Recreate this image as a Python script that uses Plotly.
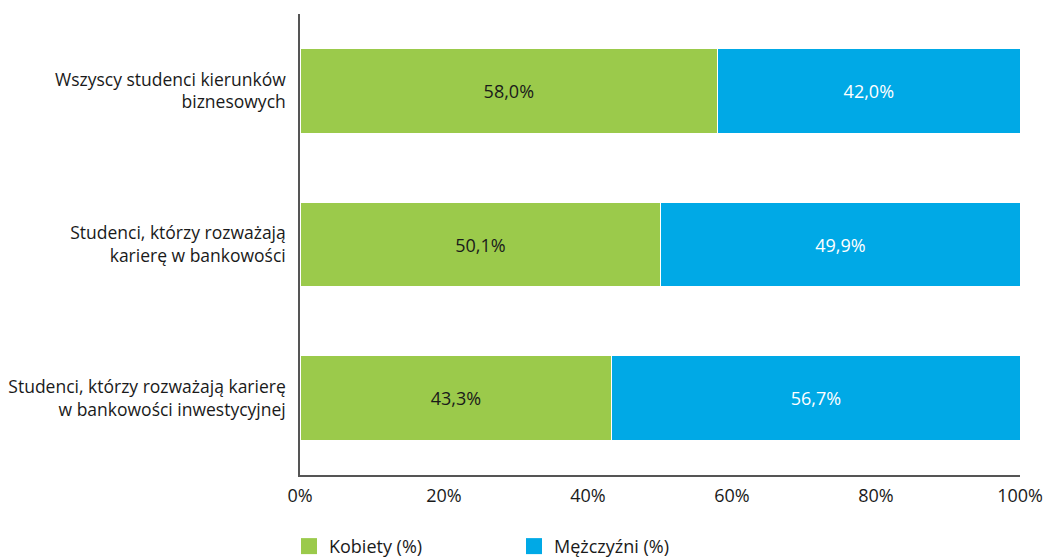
import plotly.graph_objects as go

categories = [
    "Wszyscy studenci kierunków<br>biznesowych",
    "Studenci, którzy rozważają<br>karierę w bankowości",
    "Studenci, którzy rozważają karierę<br>w bankowości inwestycyjnej",
]
kobiety = [58.0, 50.1, 43.3]
mezczyzni = [42.0, 49.9, 56.7]
series_names = ["Kobiety (%)", "Mężczyźni (%)"]
tick_vals = [0, 20, 40, 60, 80, 100]
tick_text = ["0%", "20%", "40%", "60%", "80%", "100%"]

FONT = "Open Sans"
GREEN = "#9BCA4B"
BLUE = "#00A9E6"
TEXT = "#1a1a1a"

def fmt(v):
    return f"{v:.1f}%".replace(".", ",")

fig = go.Figure()
for vals, name, color, tcolor in [
    (kobiety, series_names[0], GREEN, TEXT),
    (mezczyzni, series_names[1], BLUE, "white"),
]:
    fig.add_trace(go.Bar(
        y=categories, x=vals, orientation="h", name=name, legendgroup=name,
        showlegend=False,
        marker=dict(color=color, line=dict(color="white", width=1)),
        text=[fmt(v) for v in vals], textposition="inside", insidetextanchor="middle",
        textfont=dict(color=tcolor, size=18, family=FONT),
        width=0.553, hoverinfo="skip",
    ))
    # legend entry with a larger square swatch
    fig.add_trace(go.Scatter(
        x=[None], y=[None], mode="markers", name=name, legendgroup=name,
        marker=dict(symbol="square", size=20, color=color),
        hoverinfo="skip",
    ))

fig.update_layout(
    barmode="stack",
    width=1045, height=557,
    margin=dict(l=300, r=25, t=14, b=82, autoexpand=False),
    paper_bgcolor="white", plot_bgcolor="white",
    font=dict(family=FONT, size=17.5, color=TEXT),
    legend=dict(
        orientation="h", x=-0.0153, xanchor="left",
        yref="container", y=0.019, yanchor="middle",
        font=dict(size=18, family=FONT, color=TEXT),
        entrywidth=180, entrywidthmode="pixels",
        traceorder="normal", itemsizing="trace",
    ),
    xaxis=dict(
        range=[0, 100], tickvals=tick_vals, ticktext=tick_text,
        showgrid=False, zeroline=False, showline=True,
        linecolor="#555555", linewidth=1.5,
        ticks="outside", ticklen=4, tickcolor="rgba(0,0,0,0)",
        tickfont=dict(size=18, family=FONT, color=TEXT),
        fixedrange=True,
    ),
    yaxis=dict(
        autorange="reversed", showgrid=False, zeroline=False, showline=True,
        linecolor="#555555", linewidth=1.5, ticks="outside", ticklen=9, tickcolor="rgba(0,0,0,0)",
        tickfont=dict(size=17.5, family=FONT, color=TEXT),
        fixedrange=True,
    ),
)

fig.write_html("out.html")
